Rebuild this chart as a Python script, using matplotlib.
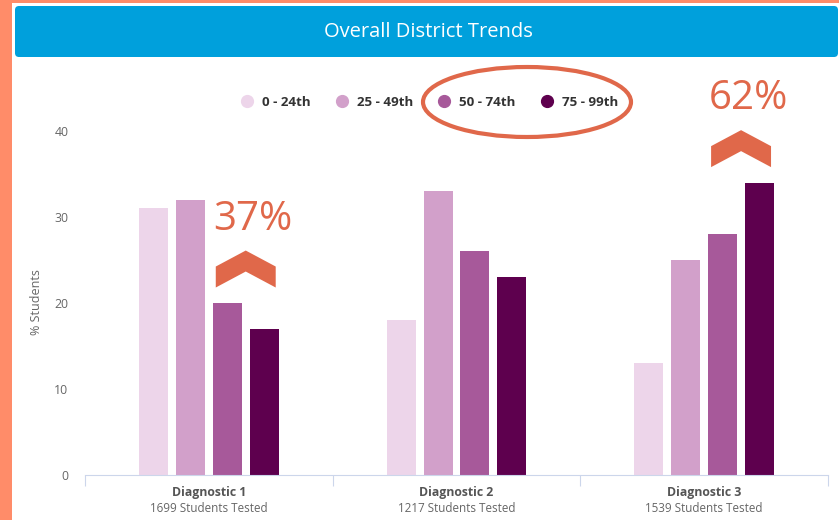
import matplotlib
matplotlib.use('Agg')
import matplotlib.pyplot as plt
from matplotlib.patches import FancyBboxPatch, Rectangle, Ellipse, Polygon
from matplotlib.lines import Line2D
import numpy as np

categories = ["Diagnostic 1", "Diagnostic 2", "Diagnostic 3"]
students_tested = [1699, 1217, 1539]
series_names = ["0 - 24th", "25 - 49th", "50 - 74th", "75 - 99th"]
s0_24 = [31, 18, 13]
s25_49 = [32, 33, 25]
s50_74 = [20, 26, 28]
s75_99 = [17, 23, 34]
y_ticks = [0, 10, 20, 30, 40]
title = "Overall District Trends"
y_label = "% Students"
callout_labels = ["37%", "62%"]
callout_categories = [0, 2]

series = [s0_24, s25_49, s50_74, s75_99]
colors = ['#EDD5EA', '#D2A0CA', '#A7599A', '#5E004E']
ORANGE = '#E0684A'
GRAY = '#666666'

plt.rcParams['font.family'] = ['Open Sans', 'DejaVu Sans']

W, H = 839, 520
fig = plt.figure(figsize=(W / 100, H / 100), dpi=100)

# decorative background in pixel coordinates
bg = fig.add_axes([0, 0, 1, 1], zorder=0)
bg.set_xlim(0, W)
bg.set_ylim(H, 0)
bg.axis('off')
bg.add_patch(Rectangle((0, 0), 12, H, color='#FF8C69', lw=0))
bg.add_patch(Rectangle((0, 0), W, 3, color='#FF8C69', lw=0))
bg.add_patch(FancyBboxPatch((19, 10), 815, 43, boxstyle='round,pad=4',
                            fc='#00A0DC', ec='none'))
bg.text(428, 32, title, color='white', fontsize=14.5, ha='center', va='center')
bg.add_patch(Ellipse((527, 102), 208, 70, fc='none', ec=ORANGE, lw=3))

# main chart
ax = fig.add_axes([85 / W, 1 - 475 / H, 743 / W, 344 / H], zorder=1)
ax.patch.set_alpha(0)
x = np.arange(len(categories))
bw = 0.117
step = 0.149
offsets = (np.arange(len(series)) - 1.5) * step
for s, vals, col, off in zip(series_names, series, colors, offsets):
    ax.bar(x + off, vals, width=bw, color=col, label=s, edgecolor='none', zorder=2)

ax.set_xlim(-0.5, len(categories) - 0.5)
ax.set_ylim(0, 40)
ax.set_yticks(y_ticks)
ax.tick_params(axis='y', length=0, pad=12, labelsize=8.8, labelcolor=GRAY)
for sp in ['left', 'top', 'right']:
    ax.spines[sp].set_visible(False)
ax.spines['bottom'].set_color('#ccd6eb')
ax.set_xticks(np.arange(len(categories) + 1) - 0.5)
ax.tick_params(axis='x', length=8, color='#ccd6eb', labelbottom=False)

for i, (cat, n) in enumerate(zip(categories, students_tested)):
    ax.annotate(cat, xy=(i, 0), xycoords=('data', 'axes fraction'),
                xytext=(0, -17.5 * 0.72), textcoords='offset points',
                ha='center', va='center', fontsize=8.8, fontweight='bold', color='#555555')
    ax.annotate(f"{n} Students Tested", xy=(i, 0), xycoords=('data', 'axes fraction'),
                xytext=(0, -33 * 0.72), textcoords='offset points',
                ha='center', va='center', fontsize=8.4, color=GRAY)

fig.text(37 / W, 1 - 302 / H, y_label, rotation=90, ha='center', va='center',
         fontsize=9, color=GRAY)

# callouts: chevrons and percentages
hw = 0.121
for lab, c in zip(callout_labels, callout_categories):
    cx = c + (offsets[2] + offsets[3]) / 2
    base = max(s50_74[c], s75_99[c]) + 1.8
    pts = [(cx - hw, base), (cx - hw, base + 2.44), (cx, base + 4.3),
           (cx + hw, base + 2.44), (cx + hw, base), (cx, base + 1.86)]
    ax.add_patch(Polygon(pts, closed=True, fc=ORANGE, ec='none', clip_on=False, zorder=3))
    ax.text(cx + 0.03, base + 7.9, lab, color=ORANGE, fontsize=29,
            ha='center', va='center', clip_on=False, zorder=3)

handles = [Line2D([], [], marker='o', ls='', ms=8.5, mfc=c, mec=c) for c in colors]
leg = fig.legend(handles, series_names, loc='center', bbox_to_anchor=(430 / W, 1 - 102 / H),
                 ncol=4, frameon=False, prop=dict(weight='bold', size=9.6),
                 handlelength=0.8, handletextpad=0.73, columnspacing=1.93,
                 labelcolor='#333333')

fig.savefig('out.png', dpi=100)
